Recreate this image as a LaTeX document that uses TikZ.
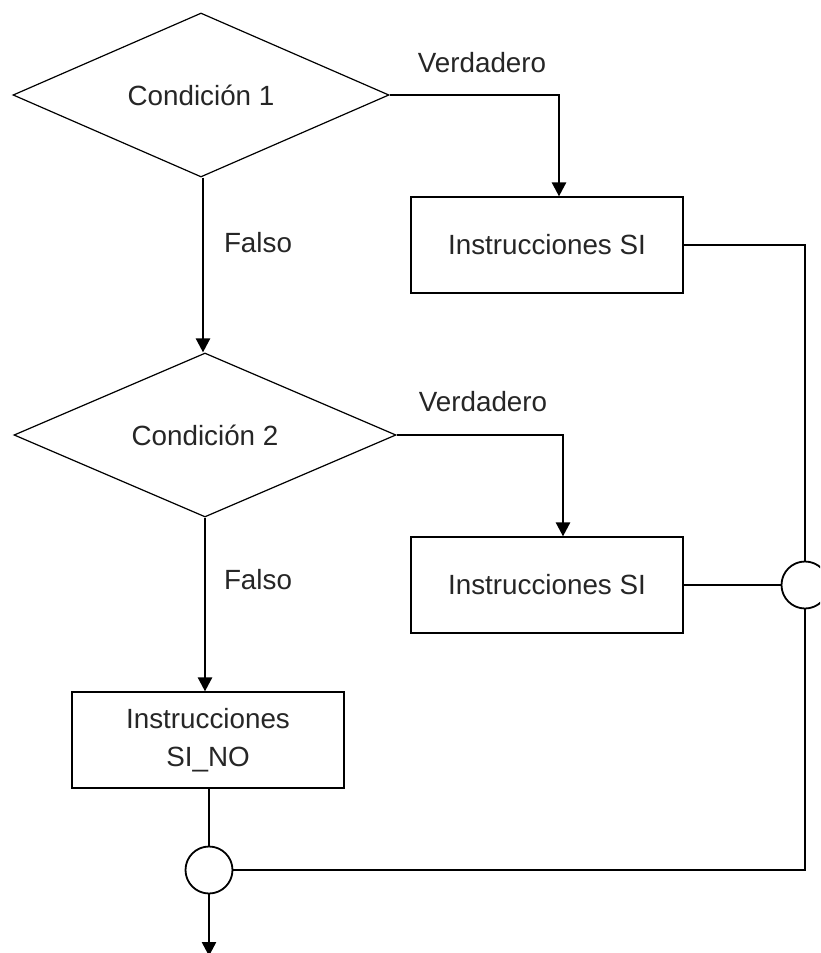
\documentclass[tikz,border=0pt]{standalone}
\usepackage{fontspec}
\setmainfont{Liberation Sans}
\usetikzlibrary{shapes.geometric,arrows.meta}
\begin{document}
\begin{tikzpicture}[x=0.5pt,y=-0.5pt,
  every node/.style={font=\fontsize{13.9}{19}\selectfont, text=black!85},
  decision/.style={draw, diamond, shape aspect=2.3, line width=0.6pt, inner sep=0pt,
    minimum height=82pt},
  process/.style={draw, rectangle, line width=0.6pt, inner sep=0pt,
    minimum width=136pt, minimum height=48pt, align=center},
  junction/.style={draw, circle, line width=0.9pt, inner sep=0pt, minimum size=23.5pt},
  conn/.style={line width=1.25pt},
  arr/.style={conn, -{Triangle[width=7pt,length=7pt]}}]
\clip (0,0) rectangle (820,953);
\fill[white] (0,0) rectangle (820,953);

% decisions
\node[decision, minimum width=188pt] (d1) at (201,95) {Condición 1};
\node[decision, minimum width=191pt] (d2) at (205,435) {Condición 2};

% process boxes
\node[process] (b1) at (547,245) {Instrucciones SI};
\node[process] (b2) at (547,585) {Instrucciones SI};
\node[process] (b3) at (208,740) {Instrucciones\\SI\_NO};

% junction circles
\node[junction] (c1) at (805,585) {};
\node[junction] (c2) at (209,870) {};
\coordinate (fin) at (209,956);

% branch labels
\node (v1) at (482,63) {Verdadero};
\node (f1) at (258,243) {Falso};
\node (v2) at (483,402) {Verdadero};
\node (f2) at (258,580) {Falso};

% connectors
\draw[arr] (d1.east) -| ([xshift=6pt]b1.north);
\draw[arr] ([xshift=1pt]d1.south) -- ([xshift=1pt]d1.south |- d2.north);
\draw[arr] (d2.east) -| ([xshift=8pt]b2.north);
\draw[arr] (d2.south) -- (d2.south |- b3.north);
\draw[conn] (b1.east) -| (c1.north);
\draw[conn] (b2.east) -- (c1.west);
\draw[conn] (b3.south -| c2.north) -- (c2.north);
\draw[conn] (c2.east) -| (c1.south);
\draw[arr] (c2.south) -- (fin);
\end{tikzpicture}
\end{document}
